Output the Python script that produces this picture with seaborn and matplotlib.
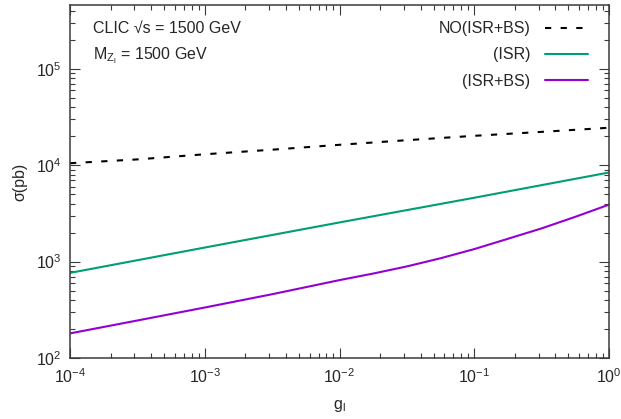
import numpy as np
import pandas as pd
import matplotlib
matplotlib.use("Agg")
import matplotlib.pyplot as plt
from matplotlib.ticker import LogLocator, NullFormatter
import seaborn as sns

# Coupling values (log10 of g_l) and cross sections in pb
log_g = [-4.0, -3.5, -3.0, -2.5, -2.0, -1.5, -1.0, -0.5, 0.0]
sigma_no_isr_bs = [1.05e4, 1.15e4, 1.30e4, 1.45e4, 1.63e4, 1.82e4, 2.02e4, 2.22e4, 2.45e4]

log_g_isr = [-4.0, -3.0, -2.0, -1.0, 0.0]
sigma_isr = [764, 1400, 2550, 4600, 8410]

log_g_isr_bs = [-4.0, -3.5, -3.0, -2.5, -2.0, -1.75, -1.5, -1.25, -1.0,
                -0.75, -0.5, -0.25, 0.0]
sigma_isr_bs = [180, 245, 334, 459, 643, 752, 892, 1084, 1349,
                1726, 2213, 2917, 3900]

series_labels = ["NO(ISR+BS)", "(ISR)", "(ISR+BS)"]
series_colors = ["black", "#009e73", "#9400d3"]

df_no = pd.DataFrame({"g": np.power(10.0, log_g), "sigma": sigma_no_isr_bs})
df_isr = pd.DataFrame({"g": np.power(10.0, log_g_isr), "sigma": sigma_isr})
df_isr_bs = pd.DataFrame({"g": np.power(10.0, log_g_isr_bs), "sigma": sigma_isr_bs})

sns.set_style("ticks")
plt.rcParams["font.family"] = ["Liberation Sans", "DejaVu Sans"]
plt.rcParams["mathtext.fontset"] = "custom"
plt.rcParams["mathtext.rm"] = "Liberation Sans"
plt.rcParams["mathtext.it"] = "Liberation Sans"
plt.rcParams["mathtext.default"] = "regular"
plt.rcParams["axes.unicode_minus"] = True

fs = 11.5
fig = plt.figure(figsize=(6.21, 4.19), dpi=100)
ax = fig.add_axes([70 / 621, 61 / 419, 539 / 621, 353 / 419])

sns.lineplot(data=df_no, x="g", y="sigma", ax=ax, color=series_colors[0],
             lw=1.5, label=series_labels[0])
ax.lines[-1].set_dashes((3, 4.5))
sns.lineplot(data=df_isr, x="g", y="sigma", ax=ax, color=series_colors[1],
             lw=1.5, label=series_labels[1])
sns.lineplot(data=df_isr_bs, x="g", y="sigma", ax=ax, color=series_colors[2],
             lw=1.5, label=series_labels[2])

ax.set_xscale("log")
ax.set_yscale("log")
ax.set_xlim(1e-4, 1.0)
ax.set_ylim(1e2, 4.6e5)

ax.xaxis.set_major_locator(LogLocator(base=10, numticks=10))
ax.xaxis.set_minor_locator(LogLocator(base=10, subs=np.arange(2, 10), numticks=20))
ax.yaxis.set_major_locator(LogLocator(base=10, numticks=10))
ax.yaxis.set_minor_locator(LogLocator(base=10, subs=np.arange(2, 10), numticks=20))
ax.xaxis.set_minor_formatter(NullFormatter())
ax.yaxis.set_minor_formatter(NullFormatter())

spine_color = "#3a3a3a"
for sp in ax.spines.values():
    sp.set_visible(True)
    sp.set_color(spine_color)
    sp.set_linewidth(1.1)

ax.tick_params(which="both", direction="in", top=True, right=True,
               color=spine_color, width=0.8)
ax.tick_params(which="major", length=7)
ax.tick_params(which="minor", length=3.5)
ax.tick_params(axis="x", which="major", labelsize=fs, pad=7)
ax.tick_params(axis="y", which="major", labelsize=fs, pad=6)

ax.set_xlabel(r"g$_{l}$", fontsize=fs, labelpad=8)
ax.set_ylabel(r"σ(pb)", fontsize=fs, labelpad=6)

ax.text(0.043, 0.921, "CLIC √s = 1500 GeV", transform=ax.transAxes,
        fontsize=fs, va="baseline", ha="left")
ax.text(0.043, 0.847, r"M$_{Z_{l}}$ = 1500 GeV", transform=ax.transAxes,
        fontsize=fs, va="baseline", ha="left")

leg = ax.legend(loc="upper right", bbox_to_anchor=(0.973, 0.972),
                borderaxespad=0, borderpad=0.4, frameon=False,
                markerfirst=False, fontsize=fs, handlelength=2.7,
                handletextpad=0.9, labelspacing=0.7)

fig.savefig("out.png", dpi=100)
